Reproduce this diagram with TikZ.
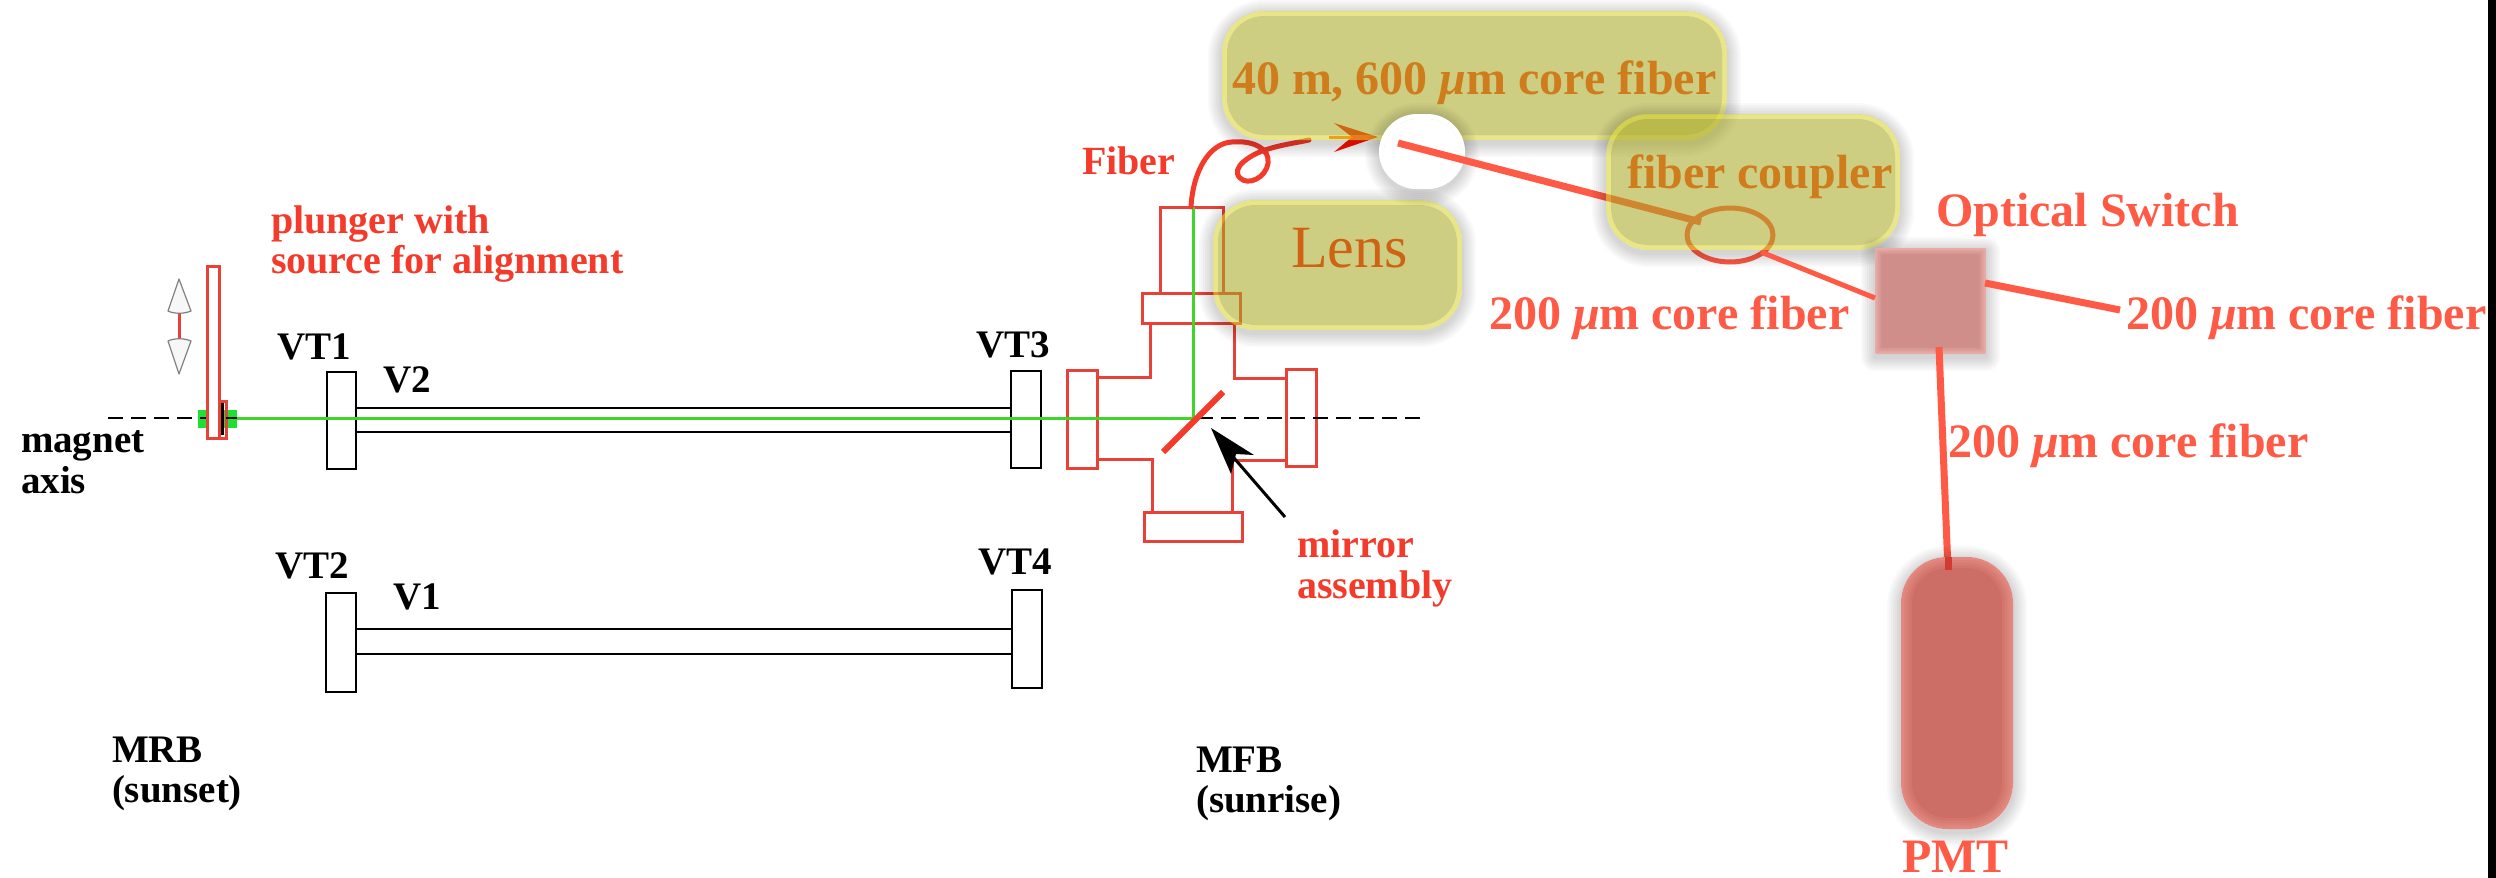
\documentclass[tikz,border=0pt]{standalone}
\usepackage{fontspec}
\setmainfont{Liberation Serif}
\usetikzlibrary{shapes.geometric}
\definecolor{redA}{RGB}{244,58,42}
\definecolor{redB}{RGB}{255,90,69}
\definecolor{redD}{RGB}{255,68,22}
\definecolor{redC}{RGB}{232,66,56}
\definecolor{greenL}{RGB}{62,214,42}
\definecolor{greenS}{RGB}{30,224,50}
\definecolor{yelF}{RGB}{169,169,34}
\definecolor{yelE}{RGB}{214,211,46}
\definecolor{swF}{RGB}{207,142,138}
\definecolor{swE}{RGB}{232,172,166}
\definecolor{pmF}{RGB}{204,110,102}
\definecolor{pmE}{RGB}{226,136,128}
\tikzset{
  x=0.5pt,y=-0.5pt,
  blk/.style={draw=black,line width=1.4pt},
  redline/.style={draw=redC,line width=1.5pt},
  tube/.style={draw=black,line width=1.4pt},
  beam/.style={draw=greenL,line width=1.5pt},
  axis/.style={draw=black,line width=1.25pt,dash pattern=on 7.5pt off 4pt},
  boxn/.style={inner sep=0pt,outer sep=0pt},
  lbl/.style={inner sep=0pt,outer sep=0pt,anchor=base west,font=\bfseries\fontsize{19.5}{22}\selectfont,text=black},
  lblr/.style={lbl,text=redA,font=\bfseries\fontsize{20}{22}\selectfont},
  big/.style={lbl,text=redB,font=\bfseries\fontsize{24}{26}\selectfont},
  bigin/.style={big,text=redD},
  fibT/.style={draw=redB,line width=3.5pt},
  headw/.style={fill=white!97!black,draw=black!50,line width=0.6pt,line join=round},
}
\newcommand{\rectbox}[6]{% name x1 y1 x2 y2 style
  \pgfmathsetmacro{\tmpw}{(#4-#2)*0.5}\pgfmathsetmacro{\tmph}{(#5-#3)*0.5}
  \node[boxn,#6,minimum width=\tmpw pt,minimum height=\tmph pt] (#1) at ({(#2+#4)/2},{(#3+#5)/2}) {};}
\newcommand{\softshadow}[5]{% x1 y1 x2 y2 radius
  \foreach \i in {1,...,7}{%
    \pgfmathsetmacro{\ra}{(#5+\i*2)*0.5}\pgfmathsetmacro{\rb}{max(#5,1)*0.5}
    \fill[black,opacity=0.022,even odd rule]
      [rounded corners=\ra pt] ({#1-\i*2},{#2-\i*2+3}) rectangle ({#3+\i*2},{#4+\i*2+3})
      [rounded corners=\rb pt] (#1,#2) rectangle (#3,#4);
  }}
% translucent box with a crisp lighter rim: name x1 y1 x2 y2 radius fill edge opacity; \bw = rim width in px
\newcommand{\softbox}[9]{%
  \softshadow{#2}{#3}{#4}{#5}{#6}%
  \pgfmathsetmacro{\ra}{max(#6,1)*0.5}\pgfmathsetmacro{\rb}{max(#6-\bw,1)*0.5}
  \fill[#8,opacity=#9,even odd rule]
    [rounded corners=\ra pt] (#2,#3) rectangle (#4,#5)
    [rounded corners=\rb pt] ({#2+\bw},{#3+\bw}) rectangle ({#4-\bw},{#5-\bw});
  \pgfmathsetmacro{\tmpw}{(#4-#2-2*\bw)*0.5}\pgfmathsetmacro{\tmph}{(#5-#3-2*\bw)*0.5}
  \node[inner sep=0pt,outer sep=0pt,fill=#7,fill opacity=#9,rounded corners=\rb pt,minimum width=\tmpw pt,minimum height=\tmph pt] (#1) at ({(#2+#4)/2},{(#3+#5)/2}) {};}
% opaque box whose rim fades into the fill: name x1 y1 x2 y2 radius fill edge
\newcommand{\fadebox}[8]{%
  \softshadow{#2}{#3}{#4}{#5}{#6}%
  \foreach \j in {0,...,4}{%
    \pgfmathsetmacro{\dd}{\j*\bw/5}\pgfmathsetmacro{\ra}{max(#6-\dd,1)*0.5}\pgfmathtruncatemacro{\pc}{\j*25}
    \fill[#7!\pc!#8,rounded corners=\ra pt] ({#2+\dd},{#3+\dd}) rectangle ({#4-\dd},{#5-\dd});
  }%
  \pgfmathsetmacro{\tmpw}{(#4-#2)*0.5}\pgfmathsetmacro{\tmph}{(#5-#3)*0.5}
  \node[inner sep=0pt,outer sep=0pt,minimum width=\tmpw pt,minimum height=\tmph pt] (#1) at ({(#2+#4)/2},{(#3+#5)/2}) {};}
\begin{document}
\begin{tikzpicture}
\useasboundingbox[fill=white] (0,0) rectangle (2496,878);
\fill[black] (2488,0) rectangle (2496,878);

% --- plunger
\fill[greenS] (198,410) rectangle (237,428);
\coordinate (axL) at (108,418);
\coordinate (axP) at (207,418);
\draw[axis] (axL) -- (axP);
\rectbox{plunger}{207}{266}{219}{438}{draw=redC,fill=white,line width=1.5pt}
\rectbox{plug}{219}{401}{226}{438}{draw=redC,line width=1.5pt}
\fill[black] (220.5,403) rectangle (223.5,435);
\coordinate (plugE) at (237,418);
\draw[blk] (plug.east |- 0,418) -- (plugE);
% double arrow
\coordinate (arT) at (179,313);
\coordinate (arB) at (179,340);
\draw[draw=redC,line width=1.5pt] (arT) -- (arB);
\draw[headw] (179,279) -- (191,311) .. controls (184,314) and (174,314) .. (168,311) -- cycle;
\draw[headw] (179,374) -- (191,341) .. controls (184,338) and (174,338) .. (168,341) -- cycle;

% --- black valves and tubes
\rectbox{vt1}{327}{372}{356}{469}{blk}
\rectbox{vt3}{1011}{371}{1041}{468}{blk}
\rectbox{vt2}{326}{593}{356}{692}{blk}
\rectbox{vt4}{1012}{590}{1042}{688}{blk}
\draw[tube] (vt1.east |- 0,408) -- (vt3.west |- 0,408);
\draw[tube] (vt1.east |- 0,432) -- (vt3.west |- 0,432);
\draw[tube] (vt2.east |- 0,629) -- (vt4.west |- 0,629);
\draw[tube] (vt2.east |- 0,654) -- (vt4.west |- 0,654);

% --- mirror assembly
\rectbox{flL}{1067}{370}{1097}{468}{redline}
\rectbox{flR}{1286}{369}{1316}{466}{redline}
\rectbox{flB}{1144}{512}{1242}{541}{redline}
\rectbox{flT}{1142}{293}{1240}{323}{redline}
\rectbox{tubeT}{1160}{207}{1223}{293}{redline}
\draw[redline] (1097,377) -- (1150,377) -- (1150,323);
\draw[redline] (1234,323) -- (1234,378) -- (1286,378);
\draw[redline] (1097,459) -- (1152,459) -- (1152,512);
\draw[redline] (1232,512) -- (1232,460) -- (1286,460);
\coordinate (axM) at (1198,418);
\coordinate (axR) at (1420,418);
\draw[axis] (axM) -- (axR);
\coordinate (bend) at (1193,418);
\draw[beam] (plugE) -- (bend) -- (tubeT.north -| bend);
\coordinate (mA) at (1163,452);
\coordinate (mB) at (1223,392);
\draw[draw=redA,line width=3pt] (mA) -- (mB);
\coordinate (mTail) at (1285,517);
\coordinate (mTip) at (1211,428);
\draw[black,line width=1.5pt] (mTail) -- (1234,458);
\fill[black] (mTip) -- (1254,455) -- (1236,454) -- (1231,474) -- cycle;

% --- labels, black
\node[lbl] (tvt1) at (277,359) {VT1};
\node[lbl] (tv2) at (383,392) {V2};
\node[lbl] (tvt3) at (976,357) {VT3};
\node[lbl] (tvt2) at (275,578) {VT2};
\node[lbl] (tv1) at (393,609) {V1};
\node[lbl] (tvt4) at (978,574) {VT4};
\node[lbl] (tmag) at (21,452) {magnet};
\node[lbl] (taxi) at (21,493) {axis};
\node[lbl] (tmrb) at (112,762) {MRB};
\node[lbl] (tsun) at (112,802) {(sunset)};
\node[lbl] (tmfb) at (1196,772) {MFB};
\node[lbl] (tsrs) at (1196,812) {(sunrise)};
% --- labels, red
\node[lblr] (tpl) at (271,233) {plunger with};
\node[lblr] (tso) at (271,273) {source for alignment};
\node[lblr] (tmi) at (1297,557) {mirror};
\node[lblr] (tas) at (1297,598) {assembly};
\node[lblr] (tfi) at (1082,174) {Fiber};

% --- fibre curve and arrow (under the yellow box)
\coordinate (fS) at (1191,207);
\coordinate (fE) at (1309,140);
\draw[draw=redA,line width=2.5pt,line cap=round]
  (fS) .. controls (1193,170) and (1210,143) .. (1232,142)
  .. controls (1255,140) and (1270,150) .. (1268,163)
  .. controls (1266,178) and (1248,186) .. (1240,178)
  .. controls (1230,168) and (1250,155) .. (1265,150)
  .. controls (1280,145) and (1295,143) .. (fE);
\coordinate (dS) at (1329,137);
\coordinate (dE) at (1352,137);
\draw[draw=orange!80!red,line width=1.5pt] (dS) -- (dE);
\fill[red!85!orange] (1378,137) -- (1334,123) -- (1352,137) -- (1334,152) -- cycle;

\node[bigin] (t40) at (1232,94) {40 m, 600 {\itshape μ}m core fiber};
\node[lbl,text=red!90!orange,font=\fontsize{30}{32}\selectfont] (tlens) at (1291,267) {Lens};
\def\bw{5}
\softbox{core}{1222}{11}{1727}{140}{42}{yelF}{yelE}{0.56}
\softbox{lens}{1213}{200}{1462}{330}{42}{yelF}{yelE}{0.56}
% white blob
\softbox{blob}{1379}{114}{1465}{189}{38}{white}{white}{1}

% --- optical fibres
\node[bigin] (tfc) at (1627,188) {fiber coupler};
\node[draw=redB,line width=2.5pt,shape=ellipse,minimum width=43pt,minimum height=27pt,inner sep=0pt,outer sep=0pt] (coupler) at (1730,235) {};
\coordinate (a1) at (1398,143);
\coordinate (a2) at (1701,222);
\draw[fibT] (a1) -- (a2);
\def\bw{5}
\softbox{fc}{1606}{114}{1900}{250}{42}{yelF}{yelE}{0.56}
\def\bw{8}
\fadebox{switch}{1875}{248}{1986}{354}{0}{swF}{swE}
\coordinate (b1) at (1761,252);
\draw[draw=redB,line width=2.5pt] (b1) -- (switch.west |- 0,298);
\coordinate (c2) at (2120,310);
\draw[fibT] (1985,283) -- (c2);
\coordinate (d1) at (1939,347);
\coordinate (d2) at (1948,570);
\draw[fibT] (d1) -- (d2);
\def\bw{14}
\fadebox{pmt}{1901}{557}{2013}{829}{46}{pmF}{pmE}
\draw[draw=redC!90!black,line width=3.5pt] (pmt.north -| d2) -- (d2);

\node[big] (tos) at (1936,226) {Optical Switch};
\node[big] (t2l) at (1489,329) {200 {\itshape μ}m core fiber};
\node[big] (t2r) at (2126,329) {200 {\itshape μ}m core fiber};
\node[big] (t2d) at (1948,457) {200 {\itshape μ}m core fiber};
\node[big] (tpmt) at (1902,872) {PMT};
\end{tikzpicture}
\end{document}
